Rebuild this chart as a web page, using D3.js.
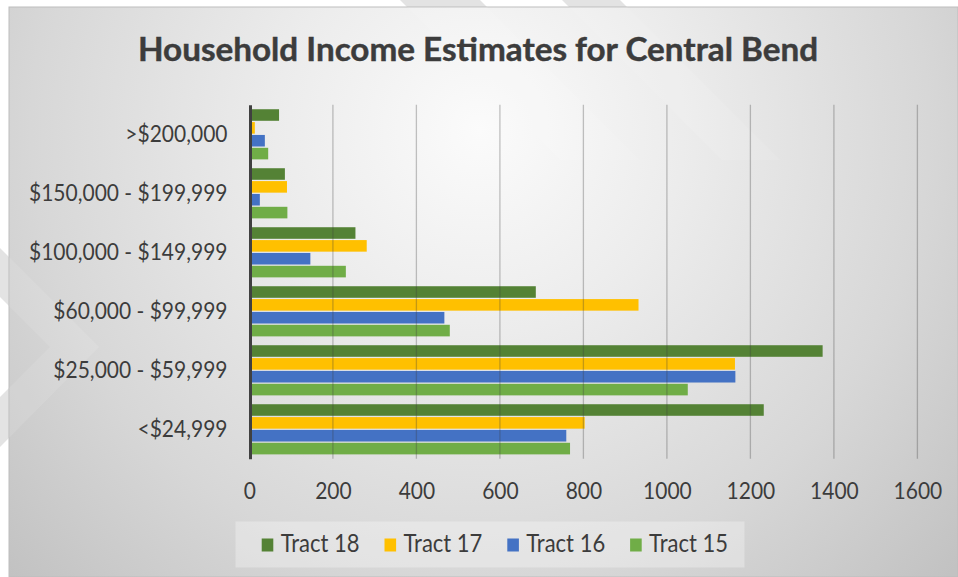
<!DOCTYPE html>
<html>
<head>
<meta charset="utf-8">
<script src="https://cdn.jsdelivr.net/npm/d3@7"></script>
<style>
  html, body { margin: 0; padding: 0; background: #ffffff; }
  svg { display: block; }
</style>
</head>
<body>
<svg id="chart" width="958" height="577"></svg>
<script>
// Household counts by income bracket, one array per census tract
const categories = [">$200,000", "$150,000 - $199,999", "$100,000 - $149,999",
                    "$60,000 - $99,999", "$25,000 - $59,999", "<$24,999"];
const seriesNames = ["Tract 18", "Tract 17", "Tract 16", "Tract 15"];
const tract18 = [71, 85, 254, 686, 1373, 1232];
const tract17 = [13, 90, 281, 932, 1163, 803];
const tract16 = [37, 25, 146, 467, 1164, 759];
const tract15 = [45, 91, 231, 480, 1050, 768];
const xTicks = [0, 200, 400, 600, 800, 1000, 1200, 1400, 1600];
const seriesColors = ["#548235", "#FFC000", "#4472C4", "#70AD47"];
const titleText = "Household Income Estimates for Central Bend";

const seriesValues = [tract18, tract17, tract16, tract15];

const W = 958, H = 577;
const frame = { x: 9, y: 7, w: W - 9, h: H - 7 };
const plot = { left: 249.4, right: 917.4, top: 104.8, bottom: 458.8 };
const SY = 1.12;            // vertical stretch applied to all text
const FONT = "Lato, 'Open Sans', sans-serif";
const TEXT = "#3c3c3c";

const svg = d3.select("#chart");
const defs = svg.append("defs");

// radial fill of the chart area, brightest behind the title
const grad = defs.append("radialGradient")
  .attr("id", "bg").attr("gradientUnits", "userSpaceOnUse")
  .attr("cx", 480).attr("cy", 130).attr("r", 680);
grad.append("stop").attr("offset", 0).attr("stop-color", "#fbfbfb");
grad.append("stop").attr("offset", 0.3).attr("stop-color", "#ececec");
grad.append("stop").attr("offset", 0.66).attr("stop-color", "#d7d7d7");
grad.append("stop").attr("offset", 0.95).attr("stop-color", "#c2c2c2");

defs.append("clipPath").attr("id", "frameClip")
  .append("rect").attr("x", frame.x).attr("y", frame.y)
  .attr("width", frame.w).attr("height", frame.h);

// faint page watermark shapes
const marks = [
  [[400, 0], [480, 0], [640, 160], [560, 160]],
  [[562, 0], [620, 0], [780, 160], [722, 160]],
  [[0, 248], [99, 347], [0, 447], [0, 397], [50, 347], [0, 297]]
];
const line = d3.line();
svg.append("g").selectAll("path").data(marks).join("path")
  .attr("d", d => line(d) + "Z").attr("fill", "#e3e3e3");

// chart area
svg.append("rect")
  .attr("x", frame.x).attr("y", frame.y).attr("width", frame.w).attr("height", frame.h)
  .attr("fill", "url(#bg)").attr("stroke", "#bdbdbd").attr("stroke-width", 1);

svg.append("g").attr("clip-path", "url(#frameClip)")
  .selectAll("path").data(marks).join("path")
  .attr("d", d => line(d) + "Z").attr("fill", "#ffffff").attr("opacity", 0.1);

// title
svg.append("text")
  .attr("transform", `translate(478,60.7) scale(1,${SY})`)
  .attr("text-anchor", "middle")
  .attr("font-family", FONT).attr("font-weight", 700).attr("font-size", 29)
  .attr("fill", TEXT)
  .attr("stroke", TEXT).attr("stroke-width", 0.4)
  .attr("textLength", 680).attr("lengthAdjust", "spacingAndGlyphs")
  .text(titleText);

// scales
const x = d3.scaleLinear().domain([0, 1600]).range([plot.left, plot.right]);
const y = d3.scaleBand().domain(categories).range([plot.top, plot.bottom])
  .paddingInner(0.15).paddingOuter(0.075);
const ySub = d3.scaleBand().domain(seriesNames).range([0, y.bandwidth()])
  .paddingInner(0.1);
const color = d3.scaleOrdinal().domain(seriesNames).range(seriesColors);

// bars
const rows = categories.map((c, i) => ({
  category: c,
  values: seriesNames.map((s, j) => ({ series: s, value: seriesValues[j][i] }))
}));

const groups = svg.append("g").selectAll("g").data(rows).join("g")
  .attr("transform", d => `translate(0,${y(d.category)})`);
groups.selectAll("rect").data(d => d.values).join("rect")
  .attr("x", x(0))
  .attr("y", d => ySub(d.series))
  .attr("width", d => x(d.value) - x(0))
  .attr("height", ySub.bandwidth())
  .attr("fill", d => color(d.series));

// vertical gridlines
svg.append("g").selectAll("line").data(xTicks.filter(t => t > 0)).join("line")
  .attr("x1", d => x(d)).attr("x2", d => x(d))
  .attr("y1", plot.top).attr("y2", plot.bottom)
  .attr("stroke", "#3a3a3a").attr("stroke-opacity", 0.3).attr("stroke-width", 1.3);

// category axis
const yAxis = svg.append("g")
  .attr("transform", `translate(${plot.left + 0.6},0)`)
  .call(d3.axisLeft(y).tickSize(0).tickSizeOuter(0));
yAxis.select(".domain").attr("stroke", "#404040").attr("stroke-width", 3);
yAxis.selectAll(".tick text")
  .attr("x", null).attr("dy", null)
  .attr("transform", `translate(-22.5,7.4) scale(1,${SY})`)
  .attr("font-family", FONT).attr("font-size", 21).attr("fill", TEXT);

// value axis
const xAxis = svg.append("g")
  .attr("transform", `translate(0,${plot.bottom})`)
  .call(d3.axisBottom(x).tickValues(xTicks).tickSize(0).tickFormat(d3.format("d")));
xAxis.select(".domain").remove();
xAxis.selectAll(".tick text")
  .attr("y", null).attr("dy", null)
  .attr("transform", `translate(0,40.2) scale(1,${SY})`)
  .attr("font-family", FONT).attr("font-size", 21).attr("fill", TEXT);

// legend
const legend = svg.append("g");
legend.append("rect")
  .attr("x", 235.5).attr("y", 521.5).attr("width", 509).attr("height", 46)
  .attr("fill", "#ffffff").attr("opacity", 0.3);
const items = legend.selectAll("g").data(seriesNames).join("g")
  .attr("transform", (d, i) => `translate(${261.7 + i * 122.8},0)`);
items.append("rect")
  .attr("x", 0).attr("y", 538.5).attr("width", 11.6).attr("height", 13)
  .attr("fill", d => color(d));
items.append("text")
  .attr("transform", `translate(19,551.7) scale(1,${SY})`)
  .attr("font-family", FONT).attr("font-size", 22).attr("fill", TEXT)
  .text(d => d);
</script>
</body>
</html>
